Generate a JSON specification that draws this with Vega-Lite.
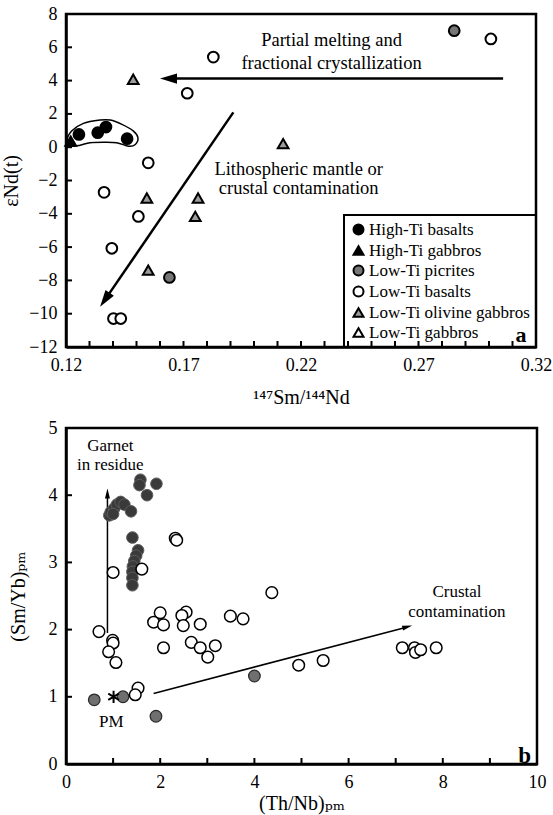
{
  "$schema": "https://vega.github.io/schema/vega-lite/v6.json",
  "padding": {"left": 0, "top": 3, "right": 0, "bottom": 0},
  "spacing": 8,
  "config": {
    "font": "Liberation Serif, DejaVu Serif, serif",
    "view": {"stroke": "black", "strokeWidth": 2.5},
    "axis": {
      "domainColor": "black", "domainWidth": 2.5,
      "ticks": false,
      "labelPadding": 9, "labelFont": "Liberation Serif, DejaVu Serif, serif", "labelFontSize": 18, "labelColor": "black",
      "labelFlush": false, "zindex": 1,
      "titleFont": "Liberation Serif, DejaVu Serif, serif", "titleFontSize": 20, "titleFontWeight": "normal", "titleColor": "black",
      "grid": false
    },
    "legend": {"strokeColor": "black", "strokeWidth": 2, "fillColor": null},
    "text": {"font": "Liberation Serif, DejaVu Serif, serif", "color": "black"}
  },
  "resolve": {
    "scale": {"fill": "independent", "stroke": "independent", "shape": "independent"},
    "legend": {"fill": "independent", "stroke": "independent", "shape": "independent"}
  },
  "vconcat": [
    {
      "width": 470,
      "height": 333,
      "encoding": {
        "x": {"field": "x", "type": "quantitative",
          "scale": {"domain": [0.12, 0.32], "nice": false, "zero": false},
          "axis": {
            "title": "¹⁴⁷Sm/¹⁴⁴Nd", "titlePadding": 13,
            "values": [0.12, 0.17, 0.22, 0.27, 0.32],
            "format": ".2f"
          }},
        "y": {"field": "y", "type": "quantitative",
          "scale": {"domain": [-12, 8], "nice": false, "zero": false},
          "axis": {"title": "εNd(t)", "titlePadding": 7,
            "values": [-12, -10, -8, -6, -4, -2, 0, 2, 4, 6, 8]}}
      },
      "layer": [
        {
          "data": {"values": [
            {"x": 0.13, "y": -12}, {"x": 0.14, "y": -12}, {"x": 0.15, "y": -12}, {"x": 0.16, "y": -12},
            {"x": 0.17, "y": -12}, {"x": 0.18, "y": -12}, {"x": 0.19, "y": -12}, {"x": 0.2, "y": -12},
            {"x": 0.21, "y": -12}, {"x": 0.22, "y": -12}, {"x": 0.23, "y": -12}, {"x": 0.24, "y": -12},
            {"x": 0.25, "y": -12}, {"x": 0.26, "y": -12}, {"x": 0.27, "y": -12}, {"x": 0.28, "y": -12},
            {"x": 0.29, "y": -12}, {"x": 0.3, "y": -12}, {"x": 0.31, "y": -12}
          ]},
          "mark": {"type": "point", "shape": "M0,0L0,-2", "size": 36, "filled": false, "color": "black", "strokeWidth": 2, "opacity": 1}
        },
        {
          "data": {"values": [
            {"x": 0.12, "y": -10}, {"x": 0.12, "y": -8}, {"x": 0.12, "y": -6}, {"x": 0.12, "y": -4},
            {"x": 0.12, "y": -2}, {"x": 0.12, "y": 0}, {"x": 0.12, "y": 2}, {"x": 0.12, "y": 4}, {"x": 0.12, "y": 6}
          ]},
          "mark": {"type": "point", "shape": "M0,0L2,0", "size": 36, "filled": false, "color": "black", "strokeWidth": 2, "opacity": 1}
        },
        {
          "data": {"values": [
            {"i": 0, "x": 0.1203, "y": 0.36}, {"i": 1, "x": 0.1224, "y": 0.97},
            {"i": 2, "x": 0.1274, "y": 1.43}, {"i": 3, "x": 0.1345, "y": 1.63},
            {"i": 4, "x": 0.1388, "y": 1.63}, {"i": 5, "x": 0.1438, "y": 1.37},
            {"i": 6, "x": 0.1487, "y": 0.97}, {"i": 7, "x": 0.1506, "y": 0.57},
            {"i": 8, "x": 0.1495, "y": 0.16}, {"i": 9, "x": 0.1466, "y": 0.06},
            {"i": 10, "x": 0.1416, "y": 0.27}, {"i": 11, "x": 0.1359, "y": 0.3},
            {"i": 12, "x": 0.1302, "y": 0.27}, {"i": 13, "x": 0.126, "y": 0.12},
            {"i": 14, "x": 0.1217, "y": 0.06}
          ]},
          "mark": {"type": "line", "interpolate": "cardinal-closed", "color": "black", "strokeWidth": 1.5},
          "encoding": {"order": {"field": "i", "type": "quantitative"}}
        },
        {
          "data": {"values": [
            {"arrow": "melting", "k": 0, "x": 0.306, "y": 4.12},
            {"arrow": "melting", "k": 1, "x": 0.1643, "y": 4.12},
            {"arrow": "contamination", "k": 0, "x": 0.1912, "y": 2.09},
            {"arrow": "contamination", "k": 1, "x": 0.1367, "y": -9.14}
          ]},
          "mark": {"type": "line", "color": "black", "strokeWidth": 2.5, "strokeCap": "butt"},
          "encoding": {"detail": {"field": "arrow"}, "order": {"field": "k", "type": "quantitative"}}
        },
        {
          "data": {"values": [{"x": 0.16, "y": 4.12}]},
          "mark": {"type": "point", "shape": "M0,0L-0.6,2L0.6,2Z", "size": 289, "angle": 270, "filled": true, "color": "black", "opacity": 1}
        },
        {
          "data": {"values": [{"x": 0.1345, "y": -9.59}]},
          "mark": {"type": "point", "shape": "M0,0L-0.6,2L0.6,2Z", "size": 289, "angle": 214.5, "filled": true, "color": "black", "opacity": 1}
        },
        {
          "data": {"values": [
            {"x": 0.233, "y": 6.43, "t": "Partial melting and"},
            {"x": 0.233, "y": 5.04, "t": "fractional crystallization"},
            {"x": 0.219, "y": -1.3, "t": "Lithospheric mantle or"},
            {"x": 0.219, "y": -2.45, "t": "crustal contamination"}
          ]},
          "mark": {"type": "text", "fontSize": 18.5, "align": "center", "baseline": "middle"},
          "encoding": {"text": {"field": "t"}}
        },
        {
          "data": {"values": [{"x": 0.3136, "y": -11.25, "t": "a"}]},
          "mark": {"type": "text", "fontSize": 22, "fontWeight": "bold", "align": "center", "baseline": "middle"},
          "encoding": {"text": {"field": "t"}}
        },
        {
          "data": {"values": [
            {"group": "High-Ti basalts", "x": 0.1255, "y": 0.77},
            {"group": "High-Ti basalts", "x": 0.1335, "y": 0.87},
            {"group": "High-Ti basalts", "x": 0.137, "y": 1.21},
            {"group": "High-Ti basalts", "x": 0.146, "y": 0.51},
            {"group": "High-Ti gabbros", "x": 0.122, "y": 0.36},
            {"group": "Low-Ti picrites", "x": 0.2852, "y": 7.0},
            {"group": "Low-Ti picrites", "x": 0.164, "y": -7.82},
            {"group": "Low-Ti basalts", "x": 0.1827, "y": 5.41},
            {"group": "Low-Ti basalts", "x": 0.1716, "y": 3.24},
            {"group": "Low-Ti basalts", "x": 0.155, "y": -0.94},
            {"group": "Low-Ti basalts", "x": 0.1362, "y": -2.71},
            {"group": "Low-Ti basalts", "x": 0.1508, "y": -4.16},
            {"group": "Low-Ti basalts", "x": 0.1395, "y": -6.07},
            {"group": "Low-Ti basalts", "x": 0.1402, "y": -10.29},
            {"group": "Low-Ti basalts", "x": 0.1433, "y": -10.29},
            {"group": "Low-Ti basalts", "x": 0.3008, "y": 6.5},
            {"group": "Low-Ti olivine gabbros", "x": 0.1486, "y": 4.08},
            {"group": "Low-Ti olivine gabbros", "x": 0.1544, "y": -3.05},
            {"group": "Low-Ti olivine gabbros", "x": 0.1762, "y": -3.05},
            {"group": "Low-Ti olivine gabbros", "x": 0.175, "y": -4.16},
            {"group": "Low-Ti olivine gabbros", "x": 0.155, "y": -7.38},
            {"group": "Low-Ti olivine gabbros", "x": 0.2124, "y": 0.22}
          ]},
          "mark": {"type": "point", "filled": true, "size": 115, "strokeWidth": 2, "opacity": 1},
          "encoding": {
            "shape": {"field": "group", "type": "nominal",
              "scale": {"domain": ["High-Ti basalts", "High-Ti gabbros", "Low-Ti picrites", "Low-Ti basalts", "Low-Ti olivine gabbros", "Low-Ti gabbros"],
                "range": ["circle", "triangle-up", "circle", "circle", "triangle-up", "triangle-up"]},
              "legend": {"title": null, "orient": "bottom-right", "offset": 0, "padding": 6,
                "labelFont": "Liberation Serif, DejaVu Serif, serif", "labelFontSize": 17, "labelColor": "black", "labelOffset": 2,
                "labelLimit": 300, "rowPadding": 2, "symbolSize": 100, "symbolStrokeWidth": 2}},
            "fill": {"field": "group", "type": "nominal",
              "scale": {"domain": ["High-Ti basalts", "High-Ti gabbros", "Low-Ti picrites", "Low-Ti basalts", "Low-Ti olivine gabbros", "Low-Ti gabbros"],
                "range": ["black", "black", "#767676", "white", "#9c9c9c", "white"]}},
            "stroke": {"field": "group", "type": "nominal",
              "scale": {"domain": ["High-Ti basalts", "High-Ti gabbros", "Low-Ti picrites", "Low-Ti basalts", "Low-Ti olivine gabbros", "Low-Ti gabbros"],
                "range": ["black", "black", "black", "black", "black", "black"]}}
          }
        }
      ]
    },
    {
      "width": 471,
      "height": 336,
      "encoding": {
        "x": {"field": "x", "type": "quantitative",
          "scale": {"domain": [0, 10], "nice": false},
          "axis": {"title": "(Th/Nb)ₚₘ", "titlePadding": 2,
            "values": [0, 2, 4, 6, 8, 10]}},
        "y": {"field": "y", "type": "quantitative",
          "scale": {"domain": [0, 5], "nice": false},
          "axis": {"title": "(Sm/Yb)ₚₘ", "titlePadding": 20, "values": [0, 1, 2, 3, 4, 5]}}
      },
      "layer": [
        {
          "data": {"values": [
            {"x": 1, "y": 0}, {"x": 2, "y": 0}, {"x": 3, "y": 0}, {"x": 4, "y": 0}, {"x": 5, "y": 0},
            {"x": 6, "y": 0}, {"x": 7, "y": 0}, {"x": 8, "y": 0}, {"x": 9, "y": 0}
          ]},
          "mark": {"type": "point", "shape": "M0,0L0,-2", "size": 36, "filled": false, "color": "black", "strokeWidth": 2, "opacity": 1}
        },
        {
          "data": {"values": [{"x": 0, "y": 1}, {"x": 0, "y": 2}, {"x": 0, "y": 3}, {"x": 0, "y": 4}]},
          "mark": {"type": "point", "shape": "M0,0L2,0", "size": 36, "filled": false, "color": "black", "strokeWidth": 2, "opacity": 1}
        },
        {
          "data": {"values": [
            {"arrow": "garnet", "k": 0, "x": 0.88, "y": 1.95},
            {"arrow": "garnet", "k": 1, "x": 0.88, "y": 4.0},
            {"arrow": "crust", "k": 0, "x": 1.86, "y": 1.05},
            {"arrow": "crust", "k": 1, "x": 7.25, "y": 2.04}
          ]},
          "mark": {"type": "line", "color": "black", "strokeWidth": 1.5, "strokeCap": "butt"},
          "encoding": {"detail": {"field": "arrow"}, "order": {"field": "k", "type": "quantitative"}}
        },
        {
          "data": {"values": [{"x": 0.88, "y": 4.1}]},
          "mark": {"type": "point", "shape": "M0,0L-0.5,2L0.5,2Z", "size": 100, "angle": 0, "filled": true, "color": "black", "opacity": 1}
        },
        {
          "data": {"values": [{"x": 7.35, "y": 2.06}]},
          "mark": {"type": "point", "shape": "M0,0L-0.5,2L0.5,2Z", "size": 100, "angle": 75.3, "filled": true, "color": "black", "opacity": 1}
        },
        {
          "data": {"values": [
            {"x": 0.94, "y": 4.73, "t": "Garnet"},
            {"x": 0.94, "y": 4.45, "t": "in residue"},
            {"x": 8.3, "y": 2.56, "t": "Crustal"},
            {"x": 8.3, "y": 2.26, "t": "contamination"},
            {"x": 0.96, "y": 0.62, "t": "PM"}
          ]},
          "mark": {"type": "text", "fontSize": 17, "align": "center", "baseline": "middle"},
          "encoding": {"text": {"field": "t"}}
        },
        {
          "data": {"values": [{"x": 9.74, "y": 0.12, "t": "b"}]},
          "mark": {"type": "text", "fontSize": 23, "fontWeight": "bold", "align": "center", "baseline": "middle"},
          "encoding": {"text": {"field": "t"}}
        },
        {
          "data": {"values": [
            {"group": "High-Ti basalts", "x": 1.58, "y": 4.23},
            {"group": "High-Ti basalts", "x": 1.92, "y": 4.17},
            {"group": "High-Ti basalts", "x": 1.56, "y": 4.15},
            {"group": "High-Ti basalts", "x": 1.72, "y": 4.0},
            {"group": "High-Ti basalts", "x": 0.92, "y": 3.7},
            {"group": "High-Ti basalts", "x": 0.95, "y": 3.75},
            {"group": "High-Ti basalts", "x": 1.02, "y": 3.8},
            {"group": "High-Ti basalts", "x": 1.08, "y": 3.86},
            {"group": "High-Ti basalts", "x": 1.16, "y": 3.9},
            {"group": "High-Ti basalts", "x": 1.24, "y": 3.86},
            {"group": "High-Ti basalts", "x": 1.38, "y": 3.76},
            {"group": "High-Ti basalts", "x": 1.0, "y": 3.72},
            {"group": "High-Ti basalts", "x": 1.41, "y": 3.37},
            {"group": "High-Ti basalts", "x": 1.53, "y": 3.18},
            {"group": "High-Ti basalts", "x": 1.49, "y": 3.1},
            {"group": "High-Ti basalts", "x": 1.45, "y": 3.02},
            {"group": "High-Ti basalts", "x": 1.42, "y": 2.94},
            {"group": "High-Ti basalts", "x": 1.41, "y": 2.86},
            {"group": "High-Ti basalts", "x": 1.41, "y": 2.77},
            {"group": "High-Ti basalts", "x": 1.41, "y": 2.66},
            {"group": "Low-Ti picrites", "x": 0.6, "y": 0.955},
            {"group": "Low-Ti picrites", "x": 1.21, "y": 1.0},
            {"group": "Low-Ti picrites", "x": 1.91, "y": 0.71},
            {"group": "Low-Ti picrites", "x": 4.0, "y": 1.31},
            {"group": "Low-Ti basalts", "x": 1.0, "y": 2.85},
            {"group": "Low-Ti basalts", "x": 1.61, "y": 2.9},
            {"group": "Low-Ti basalts", "x": 2.32, "y": 3.36},
            {"group": "Low-Ti basalts", "x": 2.35, "y": 3.33},
            {"group": "Low-Ti basalts", "x": 4.37, "y": 2.55},
            {"group": "Low-Ti basalts", "x": 0.7, "y": 1.97},
            {"group": "Low-Ti basalts", "x": 0.99, "y": 1.84},
            {"group": "Low-Ti basalts", "x": 1.0, "y": 1.8},
            {"group": "Low-Ti basalts", "x": 0.905, "y": 1.67},
            {"group": "Low-Ti basalts", "x": 1.06, "y": 1.51},
            {"group": "Low-Ti basalts", "x": 1.53, "y": 1.13},
            {"group": "Low-Ti basalts", "x": 1.47, "y": 1.03},
            {"group": "Low-Ti basalts", "x": 2.0, "y": 2.25},
            {"group": "Low-Ti basalts", "x": 1.86, "y": 2.11},
            {"group": "Low-Ti basalts", "x": 2.07, "y": 2.07},
            {"group": "Low-Ti basalts", "x": 2.07, "y": 1.73},
            {"group": "Low-Ti basalts", "x": 2.55, "y": 2.26},
            {"group": "Low-Ti basalts", "x": 2.46, "y": 2.21},
            {"group": "Low-Ti basalts", "x": 2.49, "y": 2.06},
            {"group": "Low-Ti basalts", "x": 2.85, "y": 2.08},
            {"group": "Low-Ti basalts", "x": 2.66, "y": 1.81},
            {"group": "Low-Ti basalts", "x": 2.85, "y": 1.73},
            {"group": "Low-Ti basalts", "x": 3.01, "y": 1.59},
            {"group": "Low-Ti basalts", "x": 3.17, "y": 1.76},
            {"group": "Low-Ti basalts", "x": 3.49, "y": 2.2},
            {"group": "Low-Ti basalts", "x": 3.76, "y": 2.16},
            {"group": "Low-Ti basalts", "x": 4.94, "y": 1.47},
            {"group": "Low-Ti basalts", "x": 5.46, "y": 1.54},
            {"group": "Low-Ti basalts", "x": 7.14, "y": 1.73},
            {"group": "Low-Ti basalts", "x": 7.4, "y": 1.73},
            {"group": "Low-Ti basalts", "x": 7.42, "y": 1.66},
            {"group": "Low-Ti basalts", "x": 7.53, "y": 1.7},
            {"group": "Low-Ti basalts", "x": 7.86, "y": 1.73}
          ]},
          "mark": {"type": "point", "shape": "circle", "filled": true, "size": 135, "strokeWidth": 2, "opacity": 1},
          "encoding": {
            "fill": {"field": "group", "type": "nominal", "legend": null,
              "scale": {"domain": ["High-Ti basalts", "Low-Ti picrites", "Low-Ti basalts"],
                "range": ["#3a3a3a", "#6f6f6f", "white"]}},
            "stroke": {"field": "group", "type": "nominal", "legend": null,
              "scale": {"domain": ["High-Ti basalts", "Low-Ti picrites", "Low-Ti basalts"],
                "range": ["#5c5c5c", "#2a2a2a", "black"]}},
            "strokeWidth": {"field": "group", "type": "nominal", "legend": null,
              "scale": {"domain": ["High-Ti basalts", "Low-Ti picrites", "Low-Ti basalts"],
                "range": [1, 1.5, 2.2]}}
          }
        },
        {
          "data": {"values": [{"x": 1.01, "y": 1.0}]},
          "mark": {"type": "point", "shape": "M0,-1L0,1M-0.87,-0.5L0.87,0.5M-0.87,0.5L0.87,-0.5", "size": 150, "filled": false, "color": "black", "strokeWidth": 2, "opacity": 1}
        }
      ]
    }
  ]
}
